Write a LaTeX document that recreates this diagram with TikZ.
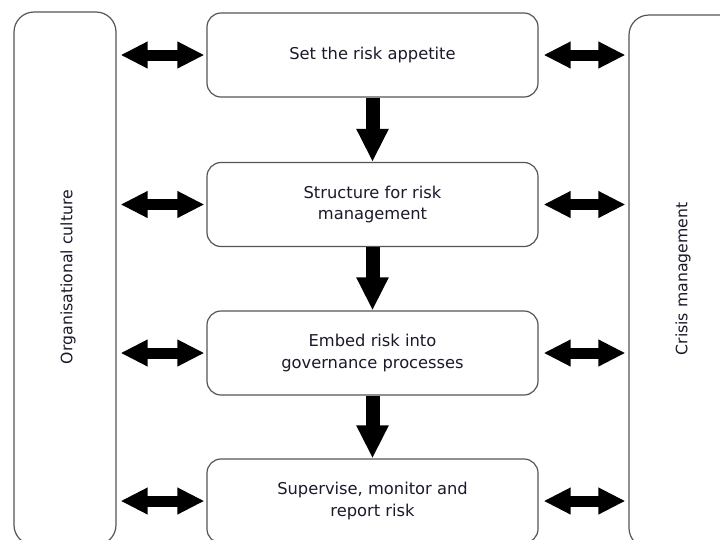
\documentclass[tikz,border=0pt]{standalone}
\usepackage{fontspec}
\setmainfont{DejaVu Sans}
\usetikzlibrary{arrows.meta}
\definecolor{boxgray}{HTML}{555555}
\definecolor{txt}{HTML}{1A1A2A}
\begin{document}
\begin{tikzpicture}[x=1pt,y=-1pt,
  stepbox/.style={draw=boxgray, line width=1.2pt, rounded corners=14pt,
    minimum width=331pt, minimum height=84pt, align=center, inner sep=0pt,
    text=txt, font=\fontsize{16.3}{21.5}\selectfont},
  sidebar/.style={draw=boxgray, line width=1.2pt, rounded corners=20pt,
    minimum width=102pt, minimum height=533pt, inner sep=0pt},
  sidetext/.style={rotate=90, text=txt, font=\fontsize{15.7}{21.5}\selectfont},
  harrow/.style={line width=11pt,
    {Triangle[length=27pt,width=25pt]}-{Triangle[length=27pt,width=25pt]}},
  varrow/.style={line width=14pt, -{Triangle[length=33pt,width=30pt]}}]
\useasboundingbox (0,0) rectangle (720,539);
\clip (0,0) rectangle (720,539);
\fill[white] (0,0) rectangle (720,539);

\node[sidebar] (lbar) at (65,278.5) {};
\node[sidebar, minimum width=116pt] (rbar) at (687,281.5) {};
\node[sidetext] (ltext) at (68,277) {Organisational culture};
\node[sidetext] (rtext) at (683,279) {Crisis management};

\node[stepbox] (b1) at (372.5,55) {Set the risk appetite};
\node[stepbox] (b2) at (372.5,204.5) {Structure for risk\\management};
\node[stepbox] (b3) at (372.5,353) {Embed risk into\\governance processes};
\node[stepbox] (b4) at (372.5,501) {Supervise, monitor and\\report risk};

\foreach \b in {b1,b2,b3,b4}{
  \draw[harrow, shorten <=4pt, shorten >=2pt] (lbar.east |- \b.west) -- (\b.west);
  \draw[harrow, shorten <=5pt, shorten >=3pt] (\b.east) -- (rbar.west |- \b.east);
}
\draw[varrow] (b1.south) -- (b2.north);
\draw[varrow] (b2.south) -- (b3.north);
\draw[varrow] (b3.south) -- (b4.north);
\end{tikzpicture}
\end{document}
